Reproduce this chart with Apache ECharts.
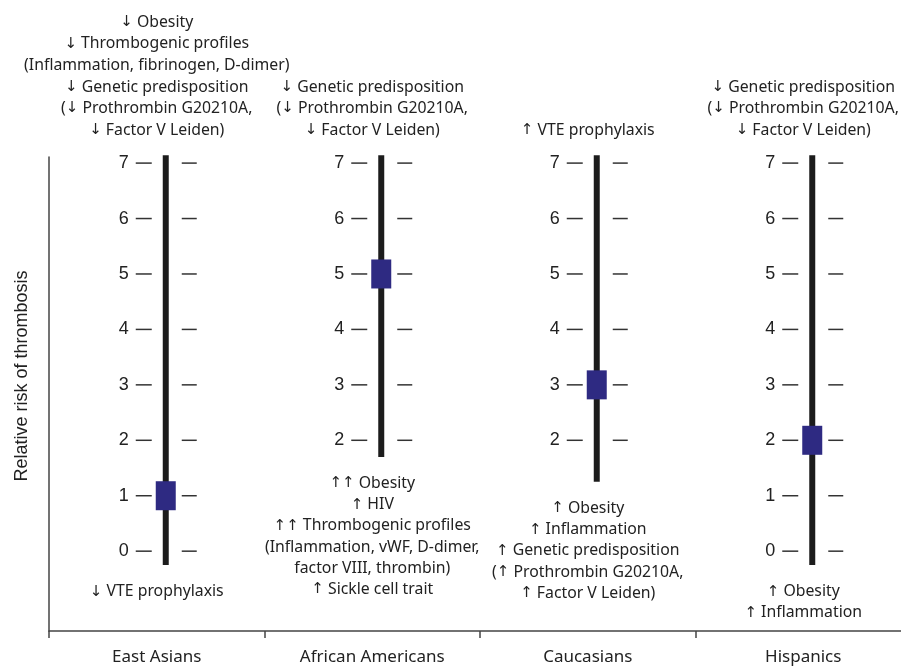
<!DOCTYPE html>
<html>
<head>
<meta charset="utf-8">
<script src="https://cdn.jsdelivr.net/npm/echarts@6/dist/echarts.min.js"></script>
<style>html,body{margin:0;padding:0;background:#fff;}#chart{width:901px;height:666px;}</style>
</head>
<body>
<div id="chart"></div>
<script>
// ---- data ----
const categories = ['East Asians', 'African Americans', 'Caucasians', 'Hispanics'];
const riskValues = [1, 5, 3, 2];
const rangeLow = [-0.25, 1.7, 1.25, -0.25];
const rangeHigh = [7.14, 7.14, 7.14, 7.14];
const scaleTicksEastAsians = [0, 1, 2, 3, 4, 5, 6, 7];
const scaleTicksAfricanAmericans = [2, 3, 4, 5, 6, 7];
const scaleTicksCaucasians = [2, 3, 4, 5, 6, 7];
const scaleTicksHispanics = [0, 1, 2, 3, 4, 5, 6, 7];
const topNotes = [
  '↓ Obesity\n↓ Thrombogenic profiles\n(Inflammation, fibrinogen, D-dimer)\n↓ Genetic predisposition\n(↓ Prothrombin G20210A,\n↓ Factor V Leiden)',
  '↓ Genetic predisposition\n(↓ Prothrombin G20210A,\n↓ Factor V Leiden)',
  '↑ VTE prophylaxis',
  '↓ Genetic predisposition\n(↓ Prothrombin G20210A,\n↓ Factor V Leiden)'
];
const bottomNotes = [
  '↓ VTE prophylaxis',
  '↑↑ Obesity\n↑ HIV\n↑↑ Thrombogenic profiles\n(Inflammation, vWF, D-dimer,\nfactor VIII, thrombin)\n↑ Sickle cell trait',
  '↑ Obesity\n↑ Inflammation\n↑ Genetic predisposition\n(↑ Prothrombin G20210A,\n↑ Factor V Leiden)',
  '↑ Obesity\n↑ Inflammation'
];
const yMin = -1.44, yMax = 7.11;
const yAxisTitle = 'Relative risk of thrombosis';

// ---- build ----
const scaleTicks = [scaleTicksEastAsians, scaleTicksAfricanAmericans, scaleTicksCaucasians, scaleTicksHispanics];
const tickData = [];
scaleTicks.forEach((arr, i) => arr.forEach(v => tickData.push([i, v])));
const rangeData = categories.map((c, i) => [i, rangeLow[i], rangeHigh[i]]);
const riskData = categories.map((c, i) => [i, riskValues[i]]);
const topData = categories.map((c, i) => [i, yMax]);
const bottomData = categories.map((c, i) => [i, rangeLow[i]]);

const OFF = 9;
const noteFont = '"Noto Sans", "Open Sans", sans-serif';
const numFont = '"Liberation Sans", Arial, sans-serif';
const arrowize = s => s.replace(/[↑↓]/g, m => '{a|' + m + '}');
const noteRich = {a: {font: '15px "DejaVu Sans"', fill: '#222'}};

const chart = echarts.init(document.getElementById('chart'), null, {renderer: 'canvas'});
chart.setOption({
  animation: false,
  backgroundColor: '#fff',
  grid: {left: 49, width: 862, top: 157, bottom: 35, containLabel: false, outerBoundsMode: 'none'},
  xAxis: {
    type: 'category', data: categories, boundaryGap: true,
    axisLine: {onZero: false, lineStyle: {color: '#444', width: 1.5}},
    axisTick: {show: true, length: 7, lineStyle: {color: '#444', width: 1.5}},
    axisLabel: {fontSize: 17, color: '#222', fontFamily: noteFont, margin: 18},
    splitLine: {show: false}
  },
  yAxis: {
    type: 'value', min: yMin, max: yMax,
    axisLine: {show: true, onZero: false, lineStyle: {color: '#444', width: 1.5}},
    axisTick: {show: false}, axisLabel: {show: false}, splitLine: {show: false}
  },
  graphic: [{
    type: 'text', x: 22, y: 376, rotation: Math.PI / 2,
    style: {text: yAxisTitle, font: '18px ' + numFont, fill: '#222', textAlign: 'center', textVerticalAlign: 'middle'}
  }],
  series: [
    {
      type: 'custom', clip: false, data: rangeData, encode: {x: 0, y: 1}, z: 2,
      renderItem: (params, api) => {
        const x = api.coord([api.value(0), 0])[0] + OFF;
        const y1 = api.coord([api.value(0), api.value(1)])[1];
        const y2 = api.coord([api.value(0), api.value(2)])[1];
        return {type: 'line', shape: {x1: x, y1: y1, x2: x, y2: y2}, style: {stroke: '#1c1c1c', lineWidth: 6}};
      }
    },
    {
      type: 'custom', clip: false, data: tickData, encode: {x: 0, y: 1}, z: 3,
      renderItem: (params, api) => {
        const p = api.coord([api.value(0), api.value(1)]);
        const x = p[0] + OFF, y = p[1];
        return {type: 'group', children: [
          {type: 'text', style: {text: String(api.value(1)), x: x - 37, y: y, font: '18px ' + numFont, fill: '#222', textAlign: 'right', textVerticalAlign: 'middle'}},
          {type: 'line', shape: {x1: x - 30, y1: y, x2: x - 14, y2: y}, style: {stroke: '#333', lineWidth: 1.5}},
          {type: 'line', shape: {x1: x + 16, y1: y, x2: x + 31, y2: y}, style: {stroke: '#333', lineWidth: 1.5}}
        ]};
      }
    },
    {
      type: 'custom', clip: false, data: riskData, encode: {x: 0, y: 1}, z: 4,
      renderItem: (params, api) => {
        const p = api.coord([api.value(0), api.value(1)]);
        return {type: 'rect', shape: {x: p[0] + OFF - 10, y: p[1] - 14.5, width: 20, height: 29}, style: {fill: '#2e2a82'}};
      }
    },
    {
      type: 'custom', clip: false, data: topData, encode: {x: 0, y: 1}, z: 5,
      renderItem: (params, api) => {
        const p = api.coord([api.value(0), api.value(1)]);
        return {type: 'text', style: {legacy: false, text: arrowize(topNotes[params.dataIndex]), rich: noteRich, x: p[0], y: p[1] - 16, font: '15.8px ' + noteFont, lineHeight: 21.6, fill: '#222', align: 'center', verticalAlign: 'bottom'}};
      }
    },
    {
      type: 'custom', clip: false, data: bottomData, encode: {x: 0, y: 1}, z: 5,
      renderItem: (params, api) => {
        const p = api.coord([api.value(0), api.value(1)]);
        return {type: 'text', style: {legacy: false, text: arrowize(bottomNotes[params.dataIndex]), rich: noteRich, x: p[0], y: p[1] + 16, font: '15.8px ' + noteFont, lineHeight: 21.2, fill: '#222', align: 'center', verticalAlign: 'top'}};
      }
    }
  ]
});
</script>
</body>
</html>
